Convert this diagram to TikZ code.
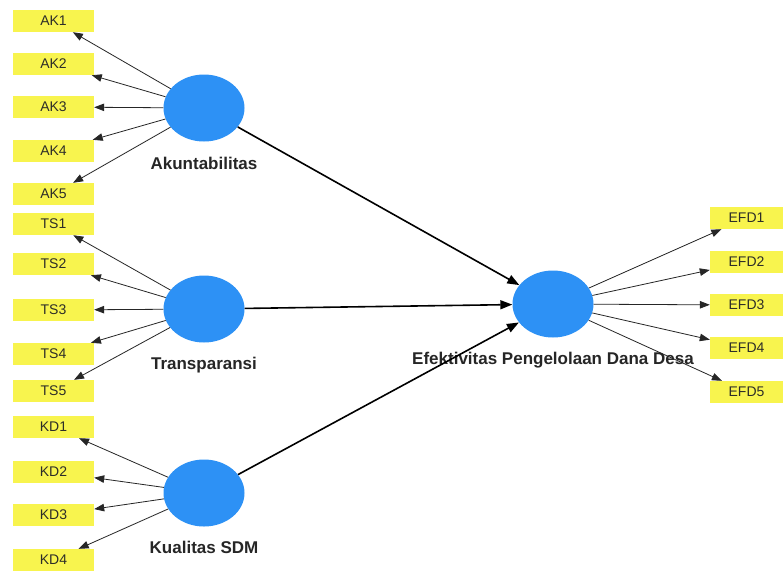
\documentclass[tikz,border=0pt]{standalone}
\usepackage{fontspec}
\setmainfont{Liberation Sans}
\usetikzlibrary{shapes.geometric,arrows.meta}
\definecolor{indyellow}{RGB}{248,244,78}
\definecolor{latblue}{RGB}{45,145,245}
\definecolor{indtext}{RGB}{45,45,40}
\tikzset{
  indbox/.style={rectangle,fill=indyellow,minimum width=81pt,minimum height=22pt,inner sep=0pt,text=indtext,font=\fontsize{14}{15}\selectfont},
  indboxr/.style={indbox,minimum width=73pt},
  latent/.style={ellipse,fill=latblue,minimum width=81pt,minimum height=67pt,inner sep=0pt},
  latlabel/.style={font=\fontsize{17}{18}\selectfont\bfseries,inner sep=0pt,text=black!85},
  indarrow/.style={line width=0.8pt,draw=black!85,-{Triangle[length=10pt,width=7.5pt]}},
  patharrow/.style={line width=1.6pt,-{Triangle[length=12pt,width=9pt]}}
}
\begin{document}
\begin{tikzpicture}[x=1pt,y=-1pt]
\fill[white] (0,0) rectangle (783,571);
\useasboundingbox (0,0) rectangle (783,571);
% indicator boxes left
\node[indbox] (ak1) at (53.5,21) {AK1};
\node[indbox] (ak2) at (53.5,64) {AK2};
\node[indbox] (ak3) at (53.5,107) {AK3};
\node[indbox] (ak4) at (53.5,151) {AK4};
\node[indbox] (ak5) at (53.5,194) {AK5};
\node[indbox] (ts1) at (53.5,224) {TS1};
\node[indbox] (ts2) at (53.5,264) {TS2};
\node[indbox] (ts3) at (53.5,310) {TS3};
\node[indbox] (ts4) at (53.5,354) {TS4};
\node[indbox] (ts5) at (53.5,391) {TS5};
\node[indbox] (kd1) at (53.5,427) {KD1};
\node[indbox] (kd2) at (53.5,472) {KD2};
\node[indbox] (kd3) at (53.5,515) {KD3};
\node[indbox] (kd4) at (53.5,560) {KD4};
% indicator boxes right
\node[indboxr] (efd1) at (746.5,218) {EFD1};
\node[indboxr] (efd2) at (746.5,262) {EFD2};
\node[indboxr] (efd3) at (746.5,305) {EFD3};
\node[indboxr] (efd4) at (746.5,348) {EFD4};
\node[indboxr] (efd5) at (746.5,392) {EFD5};
% latent variables
\node[latent] (ak) at (204,108) {};
\node[latent] (ts) at (204,309) {};
\node[latent] (kd) at (204,493) {};
\node[latent] (efd) at (553,304) {};
\node[latlabel] (akl) at (204,163) {Akuntabilitas};
\node[latlabel] (tsl) at (204,365) {Transparansi};
\node[latlabel] (kdl) at (204,547) {Kualitas SDM};
\node[latlabel] (efdl) at (553,360) {Efektivitas Pengelolaan Dana Desa};
% outer loadings
\foreach \i in {1,...,5} {\draw[indarrow] (ak) -- (ak\i);}
\foreach \i in {1,...,5} {\draw[indarrow] (ts) -- (ts\i);}
\foreach \i in {1,...,4} {\draw[indarrow] (kd) -- (kd\i);}
\foreach \i in {1,...,5} {\draw[indarrow] (efd) -- (efd\i);}
% structural paths
\draw[patharrow] (ak) -- (efd);
\draw[patharrow] (ts) -- (efd);
\draw[patharrow] (kd) -- (efd);
\end{tikzpicture}
\end{document}
